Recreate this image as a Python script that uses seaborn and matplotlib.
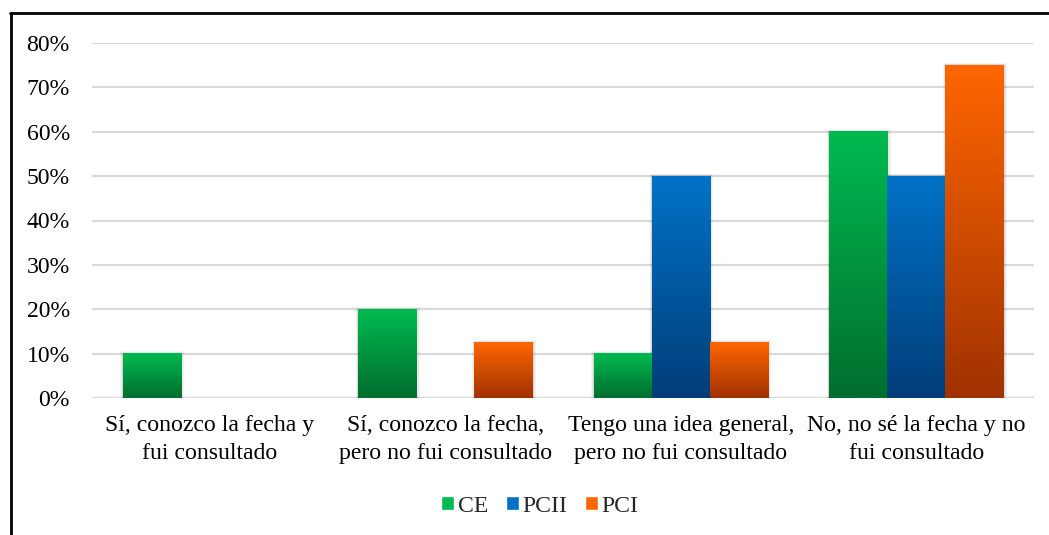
import numpy as np
import pandas as pd
import matplotlib
matplotlib.use("Agg")
import matplotlib.pyplot as plt
import seaborn as sns
from matplotlib.colors import LinearSegmentedColormap
from matplotlib.patches import Rectangle
from matplotlib.lines import Line2D

categories = ["Sí, conozco la fecha y\nfui consultado",
              "Sí, conozco la fecha,\npero no fui consultado",
              "Tengo una idea general,\npero no fui consultado",
              "No, no sé la fecha y no\nfui consultado"]
series = ["CE", "PCII", "PCI"]
ce = [0.10, 0.20, 0.10, 0.60]
pcii = [0.0, 0.0, 0.50, 0.50]
pci = [0.0, 0.125, 0.125, 0.75]

# gradient colours (top, bottom) per series
grad = {"CE": ("#00BA50", "#006E2E"),
        "PCII": ("#0072C6", "#003E78"),
        "PCI": ("#FF6600", "#A03200")}

rows = []
for name, vals in zip(series, [ce, pcii, pci]):
    for c, v in zip(categories, vals):
        rows.append({"cat": c, "serie": name, "val": v})
df = pd.DataFrame(rows)

sns.set_style("white")
plt.rcParams['font.family'] = ['Liberation Serif', 'DejaVu Serif']
fs = 17.1

fig = plt.figure(figsize=(10.49, 5.35), dpi=100)
ax = fig.add_axes([92/1049, 1-398/535, (1034-92)/1049, (398-43)/535])

sns.barplot(data=df, x="cat", y="val", hue="serie", hue_order=series,
            order=categories, width=0.74, ax=ax, legend=False,
            palette=[grad[s][0] for s in series], saturation=1)

ax.set_ylim(0, 0.8)
ax.set_xlim(-0.5, 3.5)
ax.set_yticks(np.arange(0, 0.81, 0.1))
ax.set_yticklabels([f"{int(round(t*100))}%" for t in np.arange(0, 0.81, 0.1)])
ax.yaxis.grid(True, color="#D9D9D9", linewidth=1.6, zorder=0)
ax.set_axisbelow(True)
for s in ax.spines.values():
    s.set_visible(False)
ax.axhline(0, color="#D9D9D9", linewidth=1.6, zorder=0.5)
ax.tick_params(axis="both", length=0, labelsize=fs, colors="#000000")
ax.tick_params(axis="y", pad=16)
ax.tick_params(axis="x", pad=12.5)
for lab in ax.get_xticklabels():
    lab.set_linespacing(1.4)
ax.set_xlabel("")
ax.set_ylabel("")

# replace flat bars with vertical gradients + soft shadow
for cont, name in zip(ax.containers, series):
    cmap = LinearSegmentedColormap.from_list(name, [grad[name][1], grad[name][0]])
    for bar in cont:
        x, w, h = bar.get_x(), bar.get_width(), bar.get_height()
        bar.set_visible(False)
        if h <= 0:
            continue
        for k, a in [(3, 0.04), (2, 0.05), (1, 0.07)]:
            dx = k * 0.005
            dy = k * 0.004
            ax.add_patch(Rectangle((x - dx*0.6, 0), w + dx*1.6, h + dy*0.4,
                                   facecolor="#000000", alpha=a, lw=0, zorder=1.5))
        g = np.linspace(0, 1, 256).reshape(-1, 1)
        ax.imshow(g, cmap=cmap, origin="lower", aspect="auto",
                  extent=[x, x + w, 0, h], zorder=2)
ax.set_xlim(-0.5, 3.5)
ax.set_ylim(0, 0.8)

handles = [Rectangle((0, 0), 1, 1, facecolor=grad[s][0]) for s in series]
fig.legend(handles, series, loc="center", bbox_to_anchor=(540/1049, 1-506/535),
           ncol=3, frameon=False, handlelength=0.55, handleheight=0.55,
           handletextpad=0.15, columnspacing=0.75, fontsize=fs)

# outer frame (left and top edges)
fig.add_artist(Line2D([11/1049, 11/1049], [0, 1-13/535], color="black", lw=2,
                      transform=fig.transFigure))
fig.add_artist(Line2D([10/1049, 1], [1-13/535, 1-13/535], color="black", lw=2,
                      transform=fig.transFigure))

fig.savefig("out.png", dpi=100, facecolor="white")
